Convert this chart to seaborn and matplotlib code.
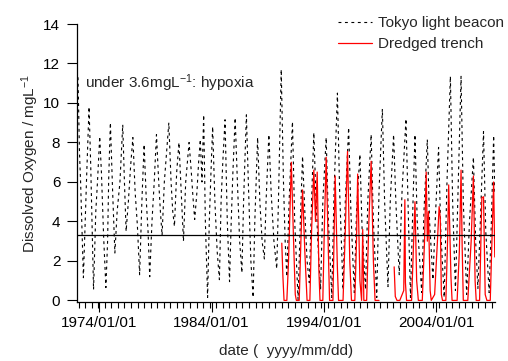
import matplotlib
matplotlib.use("Agg")
import matplotlib.pyplot as plt
import matplotlib.dates as mdates
import numpy as np
import pandas as pd
import seaborn as sns

# Tokyo light beacon (decimal year, DO mg/L)
beacon_year = [
    1972.12, 1972.25, 1972.35, 1972.48, 1972.60, 1972.75, 1972.90,
    1973.10, 1973.25, 1973.40, 1973.50, 1973.70, 1973.85,
    1974.05, 1974.20, 1974.40, 1974.60, 1974.75, 1974.85,
    1975.00, 1975.20, 1975.40, 1975.60, 1975.85,
    1976.10, 1976.25, 1976.40, 1976.60, 1976.80,
    1977.00, 1977.20, 1977.40, 1977.60, 1977.80,
    1978.00, 1978.20, 1978.35, 1978.50, 1978.70, 1978.90,
    1979.10, 1979.30, 1979.45, 1979.60, 1979.80,
    1980.00, 1980.20, 1980.40, 1980.55, 1980.70, 1980.90,
    1981.10, 1981.30, 1981.50, 1981.70, 1981.85,
    1982.00, 1982.20, 1982.35, 1982.50, 1982.70, 1982.85,
    1983.00, 1983.15, 1983.30, 1983.45, 1983.65, 1983.80, 1983.95,
    1984.10, 1984.30, 1984.50, 1984.70, 1984.85,
    1985.00, 1985.20, 1985.40, 1985.60, 1985.75, 1985.90,
    1986.10, 1986.30, 1986.50, 1986.70, 1986.85,
    1987.10, 1987.30, 1987.50, 1987.70, 1987.85,
    1988.10, 1988.30, 1988.50, 1988.70, 1988.85,
    1989.10, 1989.30, 1989.55, 1989.80, 1989.95,
    1990.20, 1990.40, 1990.55, 1990.70, 1990.90,
    1991.20, 1991.40, 1991.70, 1991.90,
    1992.10, 1992.30, 1992.50, 1992.70, 1992.90,
    1993.10, 1993.30, 1993.50, 1993.70, 1993.90,
    1994.20, 1994.40, 1994.70, 1994.90,
    1995.20, 1995.40, 1995.70, 1995.90,
    1996.20, 1996.40, 1996.70, 1996.90,
    1997.20, 1997.40, 1997.70, 1997.90,
    1998.20, 1998.40, 1998.70, 1998.90,
    1999.20, 1999.40, 1999.70, 1999.90,
    2000.20, 2000.40, 2000.70, 2000.95,
    2001.30, 2001.50, 2001.70, 2001.90,
    2002.10, 2002.30, 2002.70, 2002.90,
    2003.20, 2003.40, 2003.70, 2003.90,
    2004.20, 2004.40, 2004.70, 2004.95,
    2005.25, 2005.45, 2005.70, 2005.95,
    2006.20, 2006.40, 2006.70, 2006.95,
    2007.30, 2007.50, 2007.70, 2007.95,
    2008.20, 2008.40, 2008.70, 2008.90,
    2009.10, 2009.20,
]
beacon_do = [
    11.3, 7.5, 6.0, 3.5, 1.15, 3.8, 6.5,
    9.8, 6.8, 3.0, 0.55, 4.5, 6.0,
    8.3, 6.5, 3.2, 0.65, 3.0, 6.2,
    9.0, 5.5, 2.4, 4.5, 6.0,
    8.9, 6.0, 3.5, 5.0, 6.8,
    8.25, 5.5, 3.8, 1.3, 5.0,
    7.9, 5.0, 3.5, 1.2, 4.0, 6.0,
    8.4, 6.0, 4.5, 3.3, 6.0,
    7.5, 9.0, 6.0, 4.5, 3.75, 6.5,
    8.0, 5.5, 3.0, 6.0, 7.0,
    8.0, 6.5, 5.2, 4.1, 5.5, 7.0,
    8.15, 6.0, 9.4, 4.0, 0.15, 4.0, 6.5,
    8.8, 5.0, 2.5, 1.05, 5.0,
    7.0, 9.15, 4.0, 0.95, 4.0, 6.5,
    9.25, 6.0, 3.0, 1.4, 5.0,
    9.4, 5.5, 2.0, 0.15, 4.0,
    8.25, 5.0, 3.0, 2.1, 5.0,
    8.4, 5.5, 3.0, 1.6, 5.0,
    11.7, 6.0, 3.0, 1.2, 5.0,
    9.05, 4.0, 0.05, 4.0,
    7.3, 4.5, 2.0, 0.9, 5.0,
    8.5, 5.0, 2.5, 0.55, 5.0,
    8.25, 4.0, 0.15, 5.5,
    10.5, 5.5, 0.55, 5.0,
    8.75, 4.5, 0.4, 4.5,
    7.4, 3.5, 0.55, 5.0,
    8.4, 4.0, 0.15, 5.5,
    9.7, 5.0, 0.7, 5.0,
    8.4, 5.0, 1.3, 5.5,
    9.2, 4.5, 0.15, 4.5,
    8.4, 4.0, 0.4, 4.5,
    8.15, 4.0, 1.05, 4.0,
    7.75, 3.5, 0.15, 6.0,
    11.35, 5.0, 0.5, 6.0,
    11.35, 5.0, 0.3, 4.0,
    7.25, 3.0, 0.6, 4.5,
    8.55, 3.5, 0.4, 4.0,
    8.35, 5.5,
]

# Dredged trench (decimal year, DO mg/L); None marks a gap in the record
trench_year = [
    1990.25, 1990.35, 1990.45, 1990.70, 1990.85,
    1991.10, 1991.30, 1991.45, 1991.55, 1991.80, 1991.95,
    1992.10, 1992.30, 1992.50, 1992.75, 1992.90,
    1993.10, 1993.25, 1993.40, 1993.55, 1993.65, 1993.90,
    1994.05, 1994.20, 1994.35, 1994.50, 1994.80,
    1995.00, 1995.20, 1995.30, 1995.70, 1995.90,
    1996.10, 1996.30, 1996.45, 1996.75, 1996.90,
    1997.00, 1997.20, 1997.35, 1997.45, 1997.55, 1997.80,
    1998.00, 1998.20, 1998.40, 1998.55, 1998.90,
    None,
    2000.25, 2000.35, 2000.50, 2000.75,
    2001.10, 2001.20, 2001.25, 2001.35, 2001.80, 2001.95,
    2002.10, 2002.25, 2002.40, 2002.75, 2002.95,
    2003.10, 2003.20, 2003.30, 2003.45, 2003.55, 2003.85,
    2004.10, 2004.25, 2004.35, 2004.45, 2004.55, 2004.85,
    2005.00, 2005.10, 2005.30, 2005.40, 2005.85,
    2006.05, 2006.20, 2006.30, 2006.40, 2006.80,
    2007.10, 2007.30, 2007.45, 2007.55, 2007.85,
    2008.05, 2008.20, 2008.35, 2008.50, 2008.80,
    2008.95, 2009.10, 2009.20,
]
trench_do = [
    2.9, 1.2, 0.0, 0.0, 2.0,
    7.0, 3.0, 0.3, 0.0, 0.0, 3.0,
    5.6, 2.5, 0.0, 0.0, 3.5,
    6.6, 4.0, 6.5, 1.5, 0.0, 0.0,
    4.0, 7.25, 3.5, 0.0, 0.0,
    6.3, 1.6, 0.0, 0.0, 3.5,
    7.55, 2.0, 0.0, 0.0, 3.0,
    6.4, 1.0, 0.0, 3.6, 0.0, 0.0,
    4.0, 7.05, 2.0, 0.0, 0.0,
    None,
    1.7, 0.2, 0.0, 0.0,
    0.5, 5.1, 0.9, 0.0, 0.0, 2.5,
    5.0, 1.0, 0.0, 0.0, 3.0,
    6.5, 3.0, 4.5, 0.5, 0.0, 0.3,
    3.0, 4.75, 4.2, 0.3, 0.0, 0.0,
    3.0, 5.85, 1.2, 0.0, 0.0,
    2.5, 6.6, 2.7, 0.0, 0.0,
    3.0, 6.3, 1.0, 0.0, 0.0,
    5.2, 5.25, 0.3, 0.0, 0.0,
    3.0, 6.0, 2.2,
]

hypoxia_line = 3.3
tick_labels = ["1974/01/01", "1984/01/01", "1994/01/01", "2004/01/01"]
x_range = (1972.03, 2009.22)


def to_date(y):
    yr = int(y)
    return pd.Timestamp(year=yr, month=1, day=1) + pd.Timedelta(days=(y - yr) * 365.25)


beacon = pd.DataFrame({"date": [to_date(y) for y in beacon_year], "do": beacon_do})

seg, rows = 0, []
for y, v in zip(trench_year, trench_do):
    if y is None:
        seg += 1
        continue
    rows.append((to_date(y), v, seg))
trench = pd.DataFrame(rows, columns=["date", "do", "seg"])

sns.set_style("ticks")
plt.rcParams["font.family"] = ["Liberation Sans", "DejaVu Sans"]
plt.rcParams["mathtext.fontset"] = "custom"
plt.rcParams["mathtext.rm"] = "Liberation Sans"
plt.rcParams["mathtext.it"] = "Liberation Sans"
fs = 11

fig = plt.figure(figsize=(5.08, 3.61), dpi=100)
ax = fig.add_axes([77 / 508, 59 / 361, 418 / 508, 278 / 361])

sns.lineplot(data=beacon, x="date", y="do", ax=ax, color="black", lw=0.8,
             linestyle=(0, (2.6, 3.2)), label="Tokyo light beacon")
for i, (s, d) in enumerate(trench.groupby("seg")):
    sns.lineplot(data=d, x="date", y="do", ax=ax, color="#ff0000", lw=0.9,
                 label="Dredged trench" if i == 0 else "_nolegend_")

ax.axhline(hypoxia_line, color="black", lw=0.9)

ax.set_xlim(to_date(x_range[0]), to_date(x_range[1]))
ax.set_ylim(-0.08, 14)
ax.set_yticks(range(0, 15, 2))
ax.set_xticks(pd.to_datetime(tick_labels, format="%Y/%m/%d"))
ax.set_xticklabels(tick_labels)
ax.xaxis.set_minor_locator(mdates.MonthLocator(interval=7))

ax.tick_params(axis="both", which="major", direction="out", length=7, width=0.8,
               labelsize=fs, color="black", labelcolor="black")
ax.tick_params(axis="x", which="major", pad=3)
ax.tick_params(axis="y", which="major", pad=5)
ax.tick_params(axis="x", which="minor", direction="out", length=4, width=0.8, color="black")

for side in ["top", "right"]:
    ax.spines[side].set_visible(False)
for side in ["left", "bottom"]:
    ax.spines[side].set_linewidth(0.9)
    ax.spines[side].set_color("black")

ax.set_ylabel("Dissolved Oxygen / mgL$^{-1}$", fontsize=fs, labelpad=1.5)
ax.set_xlabel("date (  yyyy/mm/dd)", fontsize=fs, labelpad=10)

ax.text(0.018, 0.788, "under 3.6mgL$^{-1}$: hypoxia", transform=ax.transAxes,
        fontsize=fs, va="center", ha="left")

ax.legend(loc="upper left", bbox_to_anchor=(338 / 508, 1 - 16 / 361),
          bbox_transform=fig.transFigure, frameon=False, fontsize=fs,
          handlelength=2.2, handletextpad=0.45, labelspacing=0.45,
          borderpad=0, borderaxespad=0)

fig.savefig("out.png", dpi=100)
